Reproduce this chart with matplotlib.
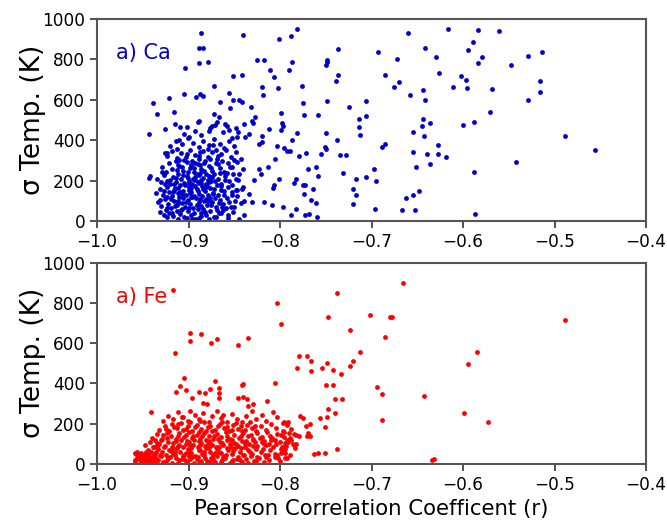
import matplotlib
matplotlib.use("Agg")
import matplotlib.pyplot as plt

# ---------------- data: Ca (top panel) ----------------
ca_r = [
    # sparse points, right side
    -0.584, -0.561, -0.589, -0.594, -0.579, -0.584, -0.529, -0.514, -0.548, -0.602,
    -0.597, -0.596, -0.568, -0.516, -0.516, -0.529, -0.571, -0.600, -0.588, -0.488,
    -0.456, -0.542, -0.588, -0.587,
    -0.781, -0.788, -0.737, -0.660, -0.616, -0.693, -0.642, -0.787, -0.790, -0.749,
    -0.749, -0.750, -0.672, -0.630, -0.626, -0.737, -0.739, -0.685, -0.670, -0.675,
    -0.611, -0.776, -0.658, -0.644, -0.642, -0.775, -0.749, -0.706, -0.725, -0.774,
    -0.759, -0.799, -0.706, -0.714, -0.714, -0.713, -0.644, -0.645, -0.636, -0.655,
    -0.643, -0.798, -0.797, -0.799, -0.781, -0.750, -0.787, -0.738, -0.796, -0.792,
    -0.789, -0.779, -0.772, -0.751, -0.750, -0.755, -0.734, -0.728, -0.688, -0.685,
    -0.655, -0.639, -0.627, -0.627, -0.619, -0.636, -0.651, -0.769, -0.761, -0.758,
    -0.731, -0.697, -0.783, -0.785, -0.775, -0.773, -0.764, -0.717, -0.706, -0.695,
    -0.720, -0.717, -0.774, -0.766, -0.761, -0.720, -0.797, -0.783, -0.788, -0.773,
    -0.768, -0.760, -0.696, -0.662, -0.655, -0.648, -0.667, -0.653,
    # outer points, left side
    -0.904, -0.889, -0.879, -0.851, -0.842, -0.872, -0.905, -0.921, -0.939, -0.934,
    -0.916, -0.892, -0.887, -0.884, -0.856, -0.866, -0.851, -0.845, -0.841, -0.855,
    -0.832, -0.872, -0.867, -0.943, -0.926, -0.915, -0.909, -0.902, -0.890, -0.888,
    -0.893, -0.876, -0.874, -0.871, -0.869, -0.860, -0.858, -0.856, -0.848, -0.846,
    -0.839, -0.831, -0.829, -0.827, -0.847, -0.853, -0.838, -0.834, -0.820, -0.820,
    -0.823, -0.812, -0.803, -0.805, -0.813, -0.821, -0.823, -0.801, -0.828, -0.807,
    -0.808, -0.818, -0.809, -0.840, -0.847, -0.848, -0.834, -0.831, -0.839, -0.839,
    -0.943, -0.942, -0.910, -0.913, -0.923, -0.926, -0.900,
    -0.886, -0.888, -0.884, -0.840, -0.801, -0.825, -0.817, -0.811, -0.807,
    -0.802, -0.820, -0.819,
    # dense core
    -0.931, -0.927, -0.925, -0.921, -0.917, -0.913, -0.909, -0.905, -0.901, -0.897,
    -0.893, -0.889, -0.886, -0.881, -0.876, -0.872, -0.867, -0.862, -0.857, -0.851,
    -0.845, -0.907, -0.884,
    -0.933, -0.930, -0.926, -0.922, -0.919, -0.916, -0.913, -0.910, -0.907, -0.904,
    -0.901, -0.898, -0.895, -0.892, -0.889, -0.886, -0.883, -0.880, -0.877, -0.874,
    -0.870, -0.866, -0.862, -0.858, -0.854, -0.849, -0.843, -0.911, -0.896, -0.887,
    -0.936, -0.931, -0.928, -0.924, -0.921, -0.918, -0.915, -0.912, -0.909, -0.906,
    -0.903, -0.900, -0.897, -0.894, -0.891, -0.888, -0.885, -0.882, -0.879, -0.876,
    -0.873, -0.869, -0.865, -0.861, -0.857, -0.852, -0.847, -0.842, -0.899, -0.890,
    -0.881, -0.907, -0.916,
    -0.934, -0.930, -0.927, -0.923, -0.920, -0.917, -0.914, -0.911, -0.908, -0.905,
    -0.902, -0.899, -0.896, -0.893, -0.890, -0.887, -0.884, -0.881, -0.878, -0.875,
    -0.872, -0.868, -0.864, -0.860, -0.856, -0.851, -0.846, -0.893, -0.886, -0.901,
    -0.879,
    -0.929, -0.925, -0.921, -0.918, -0.914, -0.910, -0.906, -0.902, -0.898, -0.894,
    -0.890, -0.886, -0.882, -0.878, -0.874, -0.870, -0.866, -0.861, -0.857, -0.852,
    -0.847, -0.840, -0.897,
    -0.923, -0.918, -0.913, -0.908, -0.903, -0.898, -0.893, -0.888, -0.884, -0.879,
    -0.874, -0.869, -0.864, -0.859, -0.854, -0.848, -0.843,
    -0.920, -0.914, -0.907, -0.901, -0.895, -0.889, -0.884, -0.878, -0.872, -0.866,
    -0.861, -0.856, -0.850,
    -0.905, -0.886, -0.862, -0.878,
    # extra core
    -0.917, -0.911, -0.904, -0.898, -0.893, -0.889, -0.884, -0.878, -0.872, -0.868,
    -0.914, -0.906, -0.901, -0.895, -0.889, -0.883, -0.877, -0.871, -0.866, -0.860,
    -0.919, -0.912, -0.903, -0.897, -0.891, -0.885, -0.879, -0.873, -0.867, -0.861,
    -0.923, -0.915, -0.908, -0.899, -0.890, -0.882, -0.875, -0.869, -0.863, -0.856,
    -0.926, -0.920, -0.913, -0.907, -0.900, -0.894, -0.887, -0.881, -0.875, -0.868,
    -0.929, -0.924, -0.910, -0.902, -0.896, -0.889, -0.883, -0.876, -0.870, -0.863,
    -0.916, -0.909, -0.897, -0.892, -0.886, -0.880, -0.874, -0.865, -0.858, -0.853,
    -0.931, -0.927, -0.918, -0.906, -0.894, -0.881, -0.871, -0.859, -0.853, -0.848,
    -0.912, -0.905, -0.893, -0.887, -0.879, -0.873, -0.868, -0.855, -0.850, -0.845,
    -0.902, -0.896, -0.886, -0.878, -0.870, -0.912, -0.923, -0.864, -0.857, -0.850,
]
ca_sigma = [
    945, 942, 884, 848, 812, 783, 815, 835, 772, 719,
    698, 658, 654, 693, 638, 597, 539, 474, 491, 421,
    352, 293, 241, 35,
    952, 916, 850, 929, 951, 837, 858, 785, 749, 799,
    785, 772, 802, 810, 734, 721, 694, 721, 686, 661,
    661, 670, 623, 650, 597, 585, 594, 592, 565, 527,
    523, 534, 519, 503, 466, 425, 506, 468, 485, 442,
    423, 486, 470, 452, 435, 437, 399, 400, 359, 349,
    349, 321, 336, 364, 356, 331, 329, 329, 367, 382,
    342, 331, 375, 331, 319, 283, 268, 257, 265, 222,
    240, 258, 207, 187, 180, 176, 159, 207, 220, 197,
    159, 131, 133, 104, 91, 85, 70, 60, 30, 28,
    35, 22, 61, 114, 129, 147, 55, 55,
    755, 780, 785, 719, 722, 669, 630, 610, 582, 532,
    539, 615, 627, 617, 636, 590, 597, 600, 590, 560,
    564, 532, 514, 430, 455, 478, 465, 465, 488, 494,
    445, 460, 469, 474, 488, 478, 468, 450, 458, 441,
    481, 496, 483, 516, 415, 413, 418, 433, 420, 390,
    382, 455, 372, 309, 266, 235, 256, 210, 202, 177,
    164, 96, 80, 169, 152, 210, 132, 93, 99, 28,
    213, 222, 403, 357, 337, 336, 415,
    931, 856, 856, 921, 903, 795, 798, 750, 712,
    660, 664, 623,
    45, 30, 55, 40, 25, 50, 35, 20, 48, 30,
    12, 15, 42, 28, 50, 22, 38, 55, 30, 45,
    8, 58, 60,
    95, 75, 110, 85, 65, 100, 78, 118, 90, 70,
    105, 82, 65, 112, 92, 72, 100, 80, 115, 95,
    68, 105, 85, 115, 70, 100, 88, 98, 120, 108,
    140, 160, 130, 170, 145, 125, 165, 138, 178, 150,
    128, 168, 142, 122, 160, 135, 175, 150, 128, 165,
    140, 178, 152, 128, 170, 145, 125, 160, 155, 148,
    168, 132, 152,
    210, 195, 228, 200, 182, 220, 195, 235, 210, 188,
    225, 200, 182, 218, 195, 238, 212, 185, 225, 200,
    235, 208, 185, 222, 198, 232, 205, 205, 190, 212,
    205,
    265, 245, 285, 258, 295, 270, 248, 290, 262, 242,
    280, 255, 298, 270, 248, 288, 262, 245, 285, 265,
    290, 255, 278,
    320, 345, 310, 338, 318, 352, 325, 305, 345, 318,
    340, 308, 332, 352, 315, 340, 305,
    372, 395, 380, 410, 385, 365, 398, 375, 405, 380,
    362, 395, 372,
    432, 425, 440, 448,
    143, 162, 177, 137, 171, 187, 158, 193, 157, 131,
    213, 227, 243, 208, 226, 248, 216, 196, 240, 205,
    107, 88, 96, 117, 79, 124, 97, 133, 88, 147,
    63, 73, 52, 66, 58, 47, 77, 52, 71, 93,
    183, 203, 251, 268, 187, 263, 277, 233, 262, 283,
    242, 118, 302, 333, 298, 321, 289, 308, 353, 297,
    182, 143, 161, 232, 203, 172, 218, 173, 238, 178,
    102, 147, 38, 112, 41, 109, 113, 62, 128, 152,
    277, 302, 287, 343, 357, 377, 321, 268, 302, 232,
    17, 8, 25, 12, 18, 12, 18, 42, 14, 68,
]

# ---------------- data: Fe (bottom panel) ----------------
fe_r = [
    # sparse points
    -0.666, -0.738, -0.748, -0.702, -0.680, -0.678, -0.799, -0.723, -0.685, -0.713,
    -0.779, -0.771, -0.766, -0.720, -0.781, -0.766, -0.754, -0.749, -0.742, -0.733,
    -0.724, -0.594, -0.750, -0.742, -0.694, -0.688, -0.643, -0.740, -0.732, -0.748,
    -0.740, -0.688, -0.599, -0.778, -0.775, -0.756, -0.749, -0.751, -0.767, -0.772,
    -0.797, -0.791, -0.796, -0.788, -0.785, -0.783, -0.779, -0.771, -0.769, -0.767,
    -0.799, -0.792, -0.788, -0.794, -0.786, -0.782, -0.798, -0.794, -0.799, -0.792,
    -0.763, -0.759, -0.751, -0.738, -0.634, -0.632,
    -0.489, -0.585, -0.573,
    -0.917, -0.915, -0.898, -0.898, -0.886, -0.875, -0.869, -0.846, -0.835, -0.803,
    -0.941, -0.905, -0.914, -0.909, -0.903, -0.889, -0.882, -0.877, -0.871, -0.867,
    -0.867, -0.867, -0.884, -0.880, -0.896, -0.842, -0.840, -0.846, -0.840, -0.836,
    -0.835, -0.830, -0.805, -0.814,
    # dense core
    -0.958, -0.956, -0.953, -0.950, -0.948, -0.945, -0.942, -0.939, -0.936, -0.933,
    -0.930, -0.926, -0.922, -0.918, -0.914, -0.910, -0.906, -0.902, -0.898, -0.894,
    -0.890, -0.886, -0.882, -0.877, -0.873, -0.869, -0.864, -0.860, -0.855, -0.851,
    -0.846, -0.842, -0.837, -0.832, -0.828, -0.823, -0.818, -0.812, -0.806, -0.800,
    -0.795, -0.957, -0.952, -0.947, -0.941,
    -0.958, -0.944, -0.937, -0.933, -0.929, -0.925, -0.921, -0.917, -0.913, -0.909,
    -0.905, -0.901, -0.897, -0.893, -0.889, -0.885, -0.881, -0.877, -0.873, -0.869,
    -0.865, -0.861, -0.857, -0.853, -0.849, -0.844, -0.840, -0.835, -0.831, -0.826,
    -0.821, -0.816, -0.811, -0.805, -0.799, -0.794, -0.915, -0.899, -0.883, -0.867,
    -0.948, -0.942, -0.938, -0.934, -0.930, -0.926, -0.922, -0.918, -0.914, -0.910,
    -0.906, -0.902, -0.898, -0.894, -0.890, -0.886, -0.882, -0.878, -0.874, -0.870,
    -0.866, -0.862, -0.858, -0.854, -0.850, -0.846, -0.842, -0.838, -0.834, -0.829,
    -0.825, -0.820, -0.815, -0.810, -0.804, -0.797, -0.791, -0.785, -0.903, -0.887,
    -0.940, -0.934, -0.929, -0.924, -0.919, -0.914, -0.910, -0.905, -0.900, -0.896,
    -0.891, -0.887, -0.883, -0.878, -0.873, -0.869, -0.864, -0.859, -0.855, -0.850,
    -0.845, -0.840, -0.835, -0.830, -0.825, -0.820, -0.814, -0.809, -0.803, -0.796,
    -0.790,
    -0.932, -0.926, -0.921, -0.916, -0.911, -0.906, -0.901, -0.896, -0.891, -0.886,
    -0.881, -0.876, -0.871, -0.866, -0.861, -0.856, -0.851, -0.846, -0.841, -0.836,
    -0.831, -0.826, -0.821, -0.815, -0.810, -0.804, -0.797, -0.792,
    -0.928, -0.922, -0.917, -0.911, -0.906, -0.901, -0.898, -0.893, -0.888, -0.884,
    -0.878, -0.874, -0.869, -0.864, -0.858, -0.853, -0.847, -0.842, -0.837, -0.831,
    -0.826, -0.820, -0.815, -0.808, -0.803, -0.796,
    # extra core
    -0.947, -0.944, -0.939, -0.935, -0.931, -0.927, -0.923, -0.919, -0.915, -0.911,
    -0.907, -0.903, -0.899, -0.895, -0.891, -0.887, -0.883, -0.879, -0.875, -0.871,
    -0.867, -0.863, -0.859, -0.855, -0.851, -0.847, -0.843, -0.839, -0.833, -0.829,
    -0.825, -0.819, -0.813, -0.808, -0.802, -0.797, -0.789, -0.784, -0.793, -0.811,
    -0.937, -0.932, -0.928, -0.923, -0.917, -0.912, -0.908, -0.903, -0.899, -0.895,
    -0.889, -0.885, -0.881, -0.876, -0.872, -0.868, -0.863, -0.858, -0.853, -0.848,
    -0.843, -0.837, -0.832, -0.827, -0.822, -0.817, -0.812, -0.806, -0.800, -0.789,
    -0.925, -0.918, -0.913, -0.908, -0.903, -0.898, -0.893, -0.888, -0.883, -0.879,
    -0.874, -0.868, -0.863, -0.858, -0.852, -0.848, -0.843, -0.838, -0.833, -0.827,
    -0.955, -0.951, -0.946, -0.943, -0.935, -0.928, -0.920, -0.912, -0.904, -0.896,
    -0.888, -0.880, -0.871, -0.862, -0.853, -0.844, -0.835, -0.826, -0.815, -0.803,
    -0.939, -0.917, -0.897, -0.878, -0.858, -0.838, -0.818, -0.907, -0.887, -0.862,
    -0.959, -0.954, -0.949, -0.943, -0.938, -0.952, -0.946, -0.940, -0.956, -0.934,
]
fe_sigma = [
    900, 849, 728, 740, 728, 728, 696, 665, 629, 556,
    534, 536, 510, 511, 478, 462, 478, 500, 466, 448,
    485, 496, 390, 394, 384, 347, 336, 324, 324, 273,
    253, 218, 251, 236, 230, 227, 232, 184, 198, 190,
    205, 208, 160, 175, 147, 142, 137, 139, 152, 141,
    144, 119, 119, 106, 98, 99, 86, 73, 56, 28,
    48, 56, 56, 73, 20, 26,
    713, 556, 210,
    865, 552, 648, 612, 643, 599, 619, 591, 624, 799,
    256, 425, 359, 387, 366, 359, 354, 371, 412, 375,
    354, 329, 303, 296, 326, 392, 397, 327, 334, 323,
    289, 298, 400, 313,
    10, 30, 20, 40, 8, 25, 15, 35, 5, 22,
    38, 12, 28, 5, 32, 18, 38, 10, 25, 5,
    35, 15, 30, 8, 25, 38, 12, 28, 5, 20,
    35, 10, 25, 38, 15, 30, 8, 22, 35, 15,
    30, 48, 55, 50, 58,
    55, 70, 48, 75, 58, 45, 70, 52, 78, 60,
    45, 72, 55, 42, 68, 50, 78, 62, 45, 72,
    55, 42, 68, 50, 78, 60, 45, 70, 52, 75,
    58, 45, 68, 50, 72, 55, 62, 62, 60, 62,
    95, 110, 85, 105, 118, 90, 108, 82, 115, 95,
    85, 112, 92, 118, 82, 102, 88, 115, 95, 82,
    110, 92, 118, 85, 105, 90, 115, 82, 100, 118,
    88, 108, 92, 118, 98, 85, 110, 95, 100, 95,
    130, 148, 125, 155, 138, 125, 152, 135, 158, 128,
    145, 125, 155, 138, 125, 150, 132, 158, 125, 145,
    130, 155, 138, 125, 152, 135, 158, 128, 148, 132,
    155,
    170, 190, 165, 182, 198, 170, 188, 165, 195, 175,
    162, 190, 170, 198, 178, 162, 192, 172, 165, 195,
    178, 162, 188, 170, 198, 178, 165, 195,
    215, 240, 222, 258, 235, 212, 262, 245, 225, 255,
    210, 240, 262, 228, 210, 250, 225, 210, 240, 262,
    222, 245, 212, 258, 232, 210,
    33, 52, 19, 61, 47, 83, 21, 63, 44, 87,
    27, 57, 41, 93, 23, 67, 43, 98, 31, 57,
    83, 21, 46, 97, 63, 27, 81, 43, 58, 91,
    37, 72, 47, 83, 28, 61, 43, 77, 91, 141,
    117, 97, 143, 127, 103, 137, 118, 143, 107, 141,
    113, 137, 121, 103, 137, 122, 106, 141, 117, 101,
    137, 113, 143, 107, 127, 112, 101, 121, 107, 127,
    173, 197, 177, 203, 176, 207, 183, 161, 207, 183,
    163, 187, 207, 182, 167, 202, 187, 171, 207, 187,
    44, 27, 13, 41, 29, 11, 37, 7, 21, 33,
    7, 17, 12, 33, 13, 22, 7, 17, 33, 43,
    82, 77, 78, 79, 79, 97, 97, 232, 213, 243,
    22, 38, 18, 28, 45, 6, 60, 8, 58, 88,
]

x_ticks = [-1.0, -0.9, -0.8, -0.7, -0.6, -0.5, -0.4]
y_ticks = [0, 200, 400, 600, 800, 1000]
panel_labels = ["a) Ca", "a) Fe"]
colors = ["#0000cc", "#ff0000"]

fig = plt.figure(figsize=(6.67, 5.2), dpi=100)
ax1 = fig.add_axes([97 / 667, 1 - 221 / 520, 549 / 667, 202 / 520])
ax2 = fig.add_axes([97 / 667, 1 - 464 / 520, 549 / 667, 201.5 / 520])

for ax, xs, ys, lab, col in [(ax1, ca_r, ca_sigma, panel_labels[0], colors[0]),
                             (ax2, fe_r, fe_sigma, panel_labels[1], colors[1])]:
    ax.scatter(xs, ys, s=12, color=col, linewidths=0)
    ax.set_xlim(-1.0, -0.4)
    ax.set_ylim(0, 1000)
    ax.set_xticks(x_ticks)
    ax.set_yticks(y_ticks)
    ax.tick_params(labelsize=12.2, length=5, width=1.2, color="#333333")
    for sp in ax.spines.values():
        sp.set_color("#555555")
        sp.set_linewidth(1.5)
    ax.set_ylabel("σ Temp. (K)", fontsize=19)
    ax.yaxis.set_label_coords(-0.092, 0.5)
    ax.text(-0.979, 830, lab, color=col, fontsize=15, ha="left", va="center")

ax2.set_xlabel("Pearson Correlation Coefficent (r)", fontsize=15.3)

fig.savefig("out.png", dpi=100)
